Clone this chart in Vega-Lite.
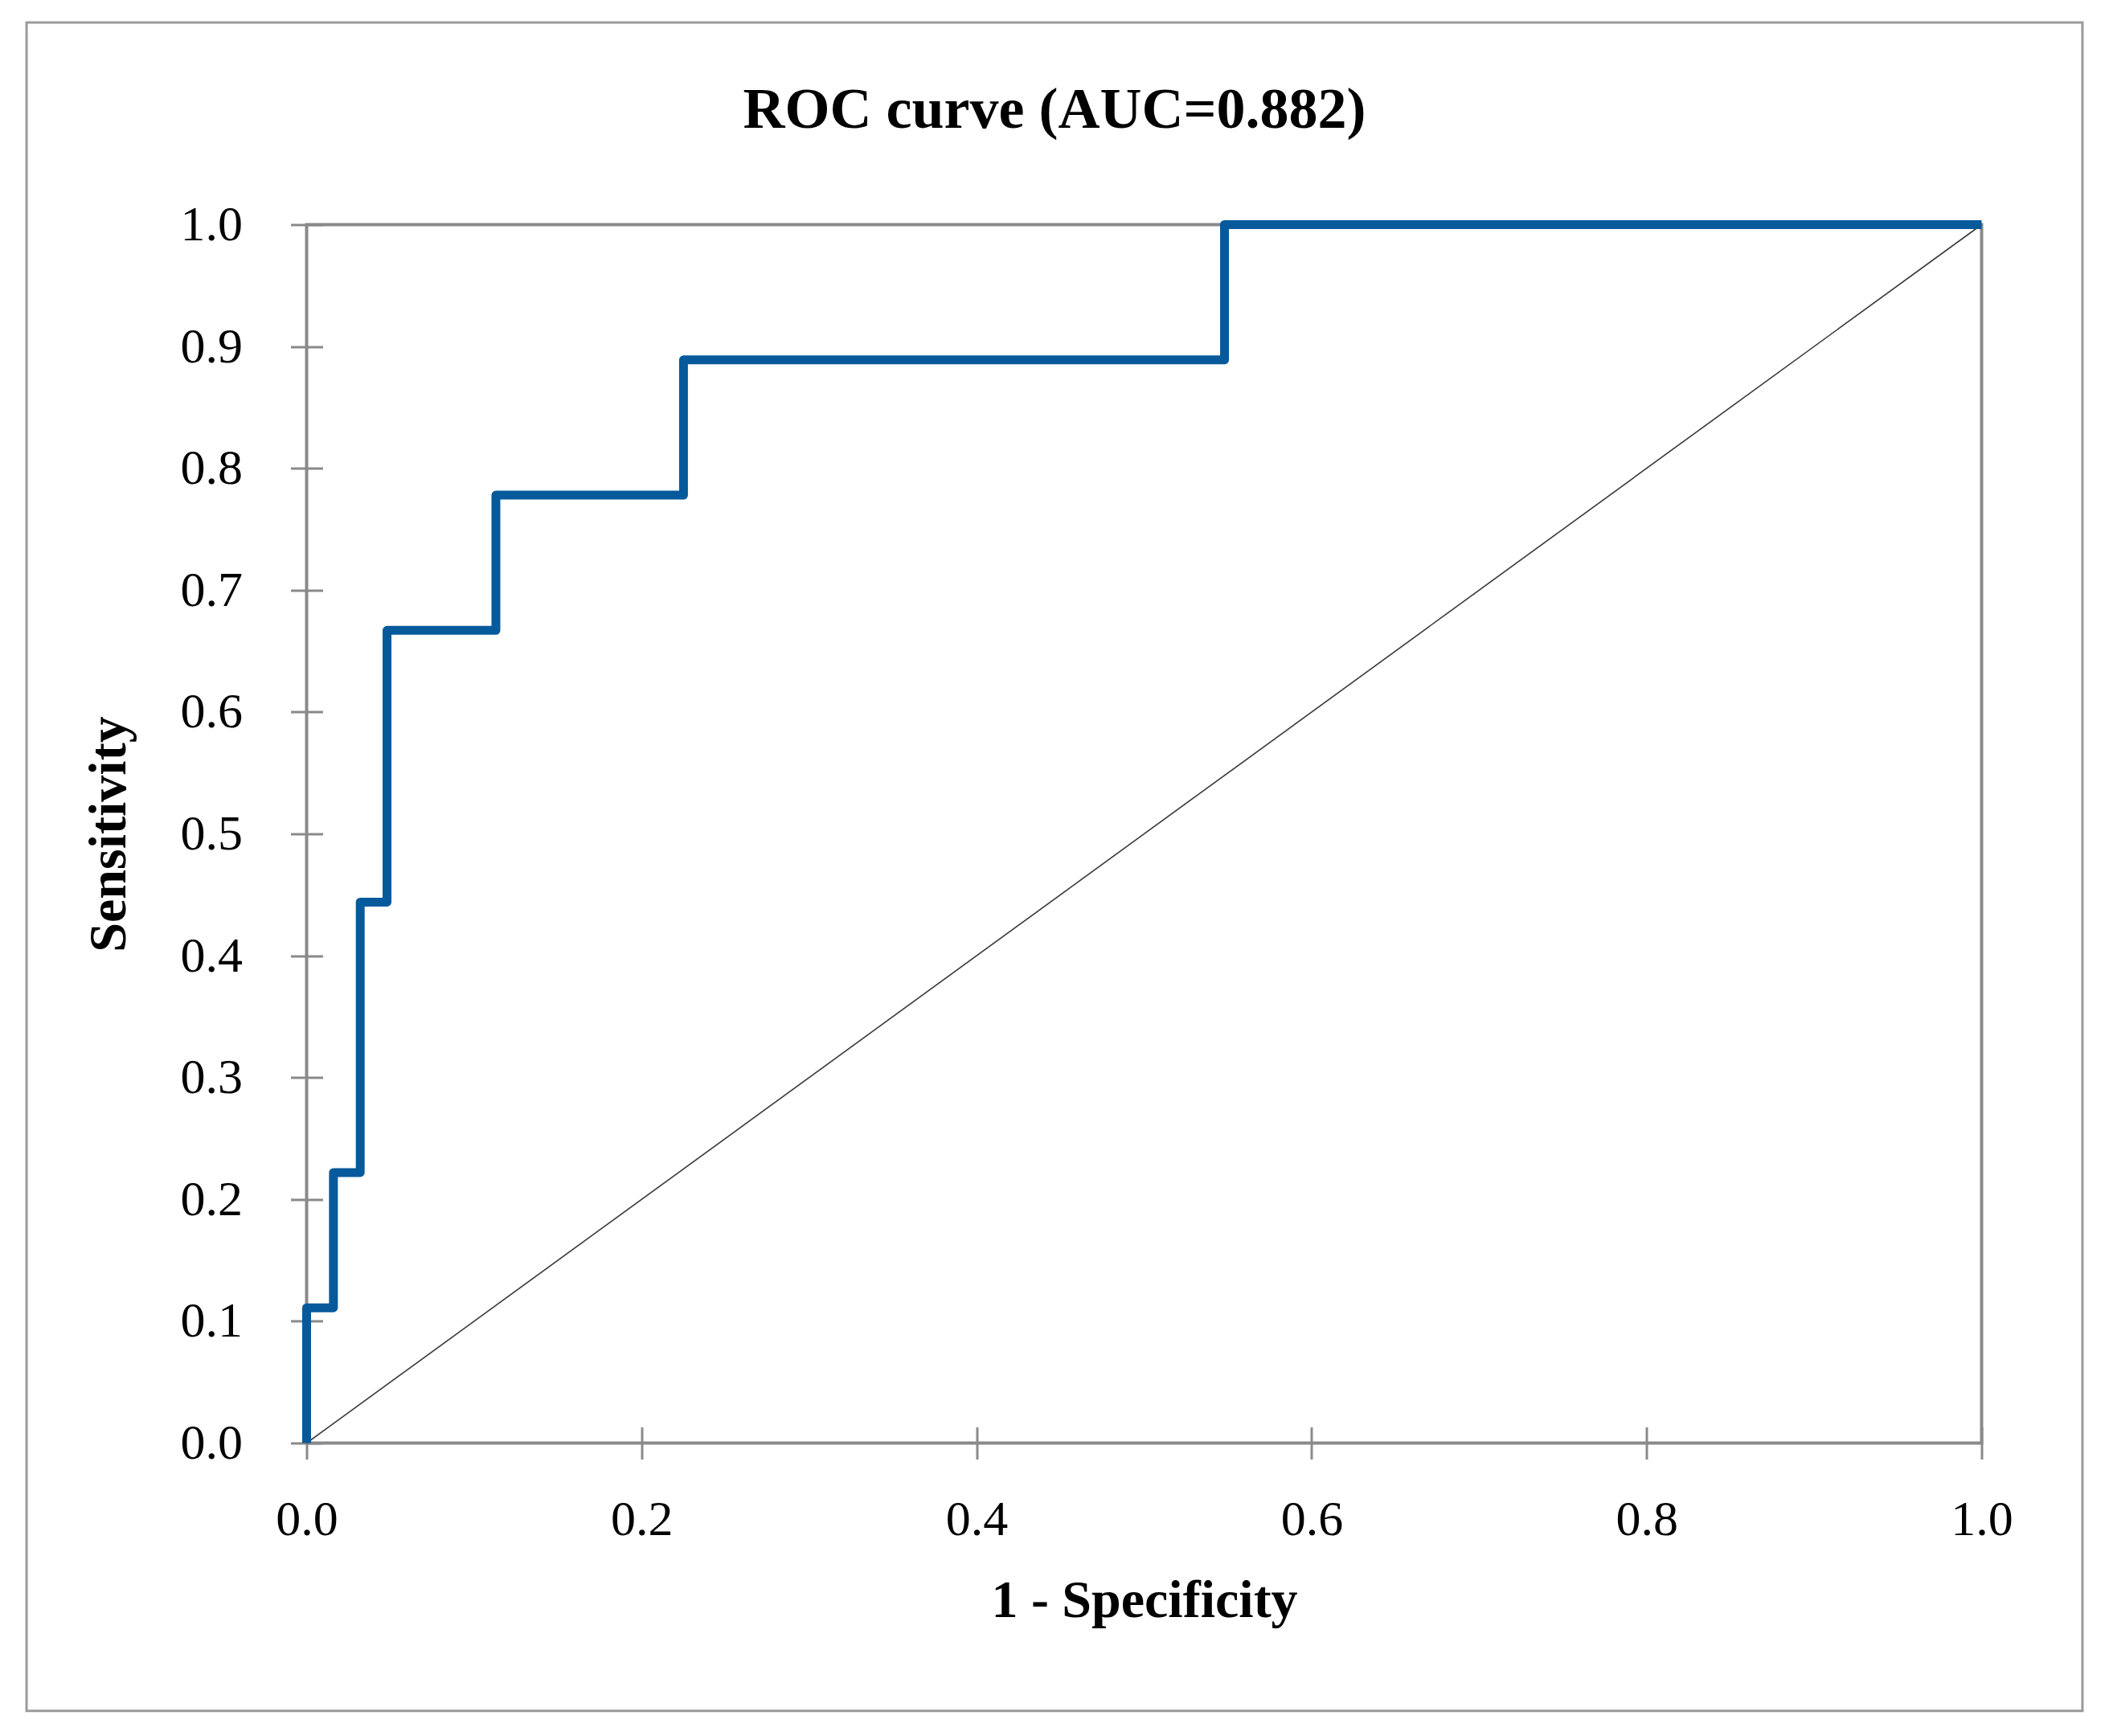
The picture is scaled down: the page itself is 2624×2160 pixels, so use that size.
{
  "$schema": "https://vega.github.io/schema/vega-lite/v6.json",
  "width": 2084,
  "height": 1516,
  "autosize": {"type": "none"},
  "padding": {"left": 381.5, "top": 279.5, "right": 158.5, "bottom": 364.5},
  "background": "white",
  "title": {
    "text": "ROC curve (AUC=0.882)",
    "frame": "bounds",
    "anchor": "middle",
    "font": "Liberation Serif",
    "fontSize": 72,
    "fontWeight": "bold",
    "color": "black",
    "baseline": "alphabetic",
    "offset": -205
  },
  "config": {
    "view": {"stroke": "#8a8a8a", "strokeWidth": 4},
    "axis": {
      "domain": false,
      "grid": false,
      "ticks": true,
      "tickColor": "#8a8a8a",
      "tickWidth": 3,
      "tickSize": 40,
      "offset": -20,
      "labelFont": "Liberation Serif",
      "labelFontSize": 62,
      "labelColor": "black",
      "labelFlush": false,
      "labelOverlap": false,
      "titleFont": "Liberation Serif",
      "titleFontSize": 66,
      "titleFontWeight": "bold",
      "titleColor": "black"
    }
  },
  "datasets": {
    "roc": [
      {"series": "ROC", "step": 1, "fpr": 0.0, "tpr": 0.0},
      {"series": "ROC", "step": 2, "fpr": 0.0, "tpr": 0.111},
      {"series": "ROC", "step": 3, "fpr": 0.016, "tpr": 0.111},
      {"series": "ROC", "step": 4, "fpr": 0.016, "tpr": 0.222},
      {"series": "ROC", "step": 5, "fpr": 0.032, "tpr": 0.222},
      {"series": "ROC", "step": 6, "fpr": 0.032, "tpr": 0.444},
      {"series": "ROC", "step": 7, "fpr": 0.048, "tpr": 0.444},
      {"series": "ROC", "step": 8, "fpr": 0.048, "tpr": 0.667},
      {"series": "ROC", "step": 9, "fpr": 0.113, "tpr": 0.667},
      {"series": "ROC", "step": 10, "fpr": 0.113, "tpr": 0.778},
      {"series": "ROC", "step": 11, "fpr": 0.225, "tpr": 0.778},
      {"series": "ROC", "step": 12, "fpr": 0.225, "tpr": 0.889},
      {"series": "ROC", "step": 13, "fpr": 0.548, "tpr": 0.889},
      {"series": "ROC", "step": 14, "fpr": 0.548, "tpr": 1.0},
      {"series": "ROC", "step": 15, "fpr": 1.0, "tpr": 1.0},
      {"series": "Reference", "step": 1, "fpr": 0.0, "tpr": 0.0},
      {"series": "Reference", "step": 2, "fpr": 1.0, "tpr": 1.0}
    ],
    "frame": [
      {"left": -0.1672, "right": 1.0602, "bottom": -0.2199, "top": 1.1659}
    ]
  },
  "layer": [
    {
      "data": {"name": "frame"},
      "mark": {"type": "rect", "fill": "transparent", "stroke": "#9a9a9a", "strokeWidth": 3, "clip": false},
      "encoding": {
        "x": {"field": "left", "type": "quantitative"},
        "x2": {"field": "right"},
        "y": {"field": "bottom", "type": "quantitative"},
        "y2": {"field": "top"}
      }
    },
    {
      "data": {"name": "roc"},
      "transform": [{"filter": "datum.series === 'Reference'"}],
      "mark": {"type": "line", "color": "#3a3a3a", "strokeWidth": 1.6},
      "encoding": {
        "x": {"field": "fpr", "type": "quantitative"},
        "y": {"field": "tpr", "type": "quantitative"},
        "order": {"field": "step"}
      }
    },
    {
      "data": {"name": "roc"},
      "transform": [{"filter": "datum.series === 'ROC'"}],
      "mark": {"type": "line", "color": "#065a9b", "strokeWidth": 11, "strokeJoin": "round", "strokeCap": "butt"},
      "encoding": {
        "x": {
          "field": "fpr",
          "type": "quantitative",
          "title": "1 - Specificity",
          "scale": {"domain": [0, 1], "nice": false, "zero": false},
          "axis": {"values": [0, 0.2, 0.4, 0.6, 0.8, 1.0], "format": ".1f", "labelPadding": 45, "titlePadding": 38}
        },
        "y": {
          "field": "tpr",
          "type": "quantitative",
          "title": "Sensitivity",
          "scale": {"domain": [0, 1], "nice": false, "zero": false},
          "axis": {"values": [0, 0.1, 0.2, 0.3, 0.4, 0.5, 0.6, 0.7, 0.8, 0.9, 1.0], "format": ".1f", "labelPadding": 60, "titlePadding": 55}
        },
        "order": {"field": "step"}
      }
    }
  ]
}
